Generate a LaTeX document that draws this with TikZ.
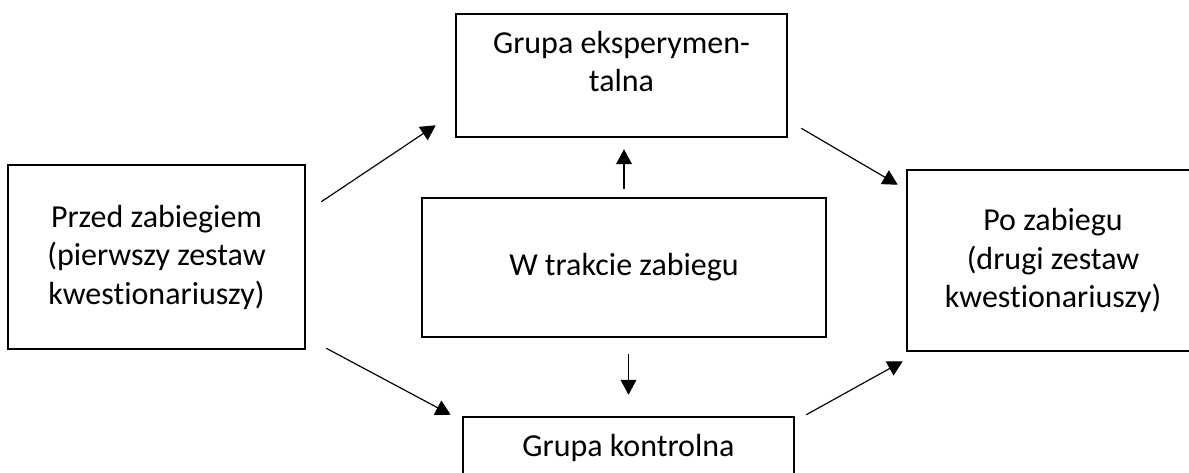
\documentclass[tikz,border=0pt]{standalone}
\usepackage{fontspec}
\setmainfont[Ligatures={NoCommon}]{Carlito}
\usetikzlibrary{arrows.meta,positioning,calc}

\begin{document}
\begin{tikzpicture}[
    x=0.6pt,y=-0.6pt,
    font=\fontsize{19.2pt}{23.1pt}\selectfont,
    stagebox/.style={draw,line width=1.5pt,inner sep=0pt,align=center},
    boxtext/.style={inner sep=0pt,align=center,anchor=north},
    arr/.style={-{Triangle[length=9pt,width=9.5pt]},line width=0.7pt}
  ]
    \useasboundingbox (0,0) rectangle (1189,473);
    \clip (0,0) rectangle (1189,473);
    \node[stagebox,minimum width=178.2pt,minimum height=110.4pt] (pre) at (156.5,257) {Przed zabiegiem\\(pierwszy zestaw\\kwestionariuszy)};
    \node[stagebox,minimum width=198.6pt,minimum height=73.8pt] (exp) at (621.5,75.5) {};
    \node[boxtext] (expt) at ($(exp.north)+(0,18)$) {Grupa eksperymen-\\talna};
    \node[stagebox,minimum width=242.4pt,minimum height=83.4pt] (dur) at (624,267.5) {W trakcie zabiegu};
    \node[stagebox,minimum width=198.6pt,minimum height=73.8pt] (ctl) at (628.5,478.5) {};
    \node[boxtext] (ctlt) at ($(ctl.north)+(0,18)$) {Grupa kontrolna};
    \node[stagebox,minimum width=198pt,minimum height=108.6pt] (post) at (1072,260.5) {};
    \node[inner sep=0pt,align=center] (postt) at (1053,260.5) {Po zabiegu\\(drugi zestaw\\kwestionariuszy)};
    \draw[arr] ($(pre.north east)+(15,38)$) -- ($(exp.south west)+(-19,-13)$);
    \draw[arr] ($(pre.south east)+(20,-2)$) -- ($(ctl.north west)+(-11,-1)$);
    \draw[arr] ($(dur.north)+(0,-8)$) -- ($(dur.north |- exp.south)+(0,11)$);
    \draw[arr] ($(ctl.north |- dur.south)+(0,16)$) -- ($(ctl.north)+(0,-21)$);
    \draw[arr] ($(exp.south east)+(13,-10)$) -- ($(post.north west)+(-8,16)$);
    \draw[arr] ($(ctl.north east)+(11,-1)$) -- ($(post.south west)+(-3,9)$);
  \end{tikzpicture}
\end{document}
